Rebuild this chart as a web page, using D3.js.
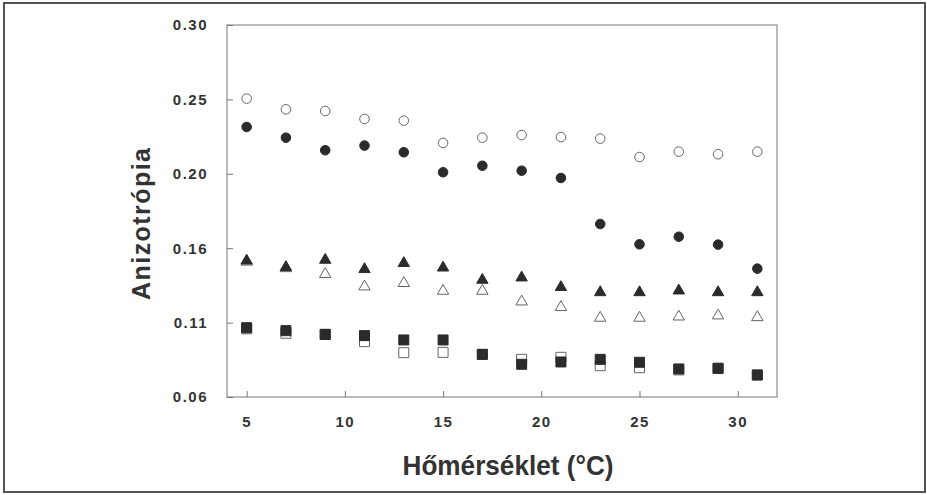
<!DOCTYPE html>
<html>
<head>
<meta charset="utf-8">
<script src="https://cdn.jsdelivr.net/npm/d3@7"></script>
<style>
  body { margin: 0; background: #fff; }
  text { font-family: "Liberation Sans", Arial, sans-serif; font-weight: bold; fill: #333; }
</style>
</head>
<body>
<svg id="chart" width="927" height="495"></svg>
<script>
// temperatures (°C)
const temps = [5, 7, 9, 11, 13, 15, 17, 19, 21, 23, 25, 27, 29, 31];

// anisotropy values
const openCircle   = [0.2525, 0.2456, 0.2445, 0.2394, 0.2383, 0.2239, 0.2273, 0.2290, 0.2277, 0.2267, 0.2148, 0.2183, 0.2166, 0.2183];
const filledCircle = [0.2342, 0.2273, 0.2192, 0.2222, 0.2179, 0.2050, 0.2092, 0.2060, 0.2013, 0.1716, 0.1585, 0.1634, 0.1583, 0.1428];
const openTri      = [0.1472, 0.1430, 0.1392, 0.1312, 0.1334, 0.1284, 0.1284, 0.1215, 0.1179, 0.1110, 0.1110, 0.1118, 0.1125, 0.1114];
const filledTri    = [0.1479, 0.1437, 0.1484, 0.1424, 0.1463, 0.1434, 0.1355, 0.1370, 0.1308, 0.1275, 0.1275, 0.1286, 0.1275, 0.1275];
const openSq       = [0.1040, 0.1011, 0.1004, 0.0957, 0.0886, 0.0888, 0.0875, 0.0843, 0.0856, 0.0802, 0.0789, 0.0775, 0.0785, 0.0742];
const filledSq     = [0.1047, 0.1028, 0.1004, 0.0996, 0.0968, 0.0968, 0.0875, 0.0811, 0.0826, 0.0843, 0.0824, 0.0781, 0.0785, 0.0742];

const xTicks = [5, 10, 15, 20, 25, 30];
const yTicks = [0.06, 0.108, 0.156, 0.204, 0.252, 0.30];
const yTickLabels = ['0.06', '0.11', '0.16', '0.20', '0.25', '0.30'];

const svg = d3.select('#chart');
const margin = { top: 25, right: 150, bottom: 98, left: 227 };
const width = 927 - margin.left - margin.right;
const height = 495 - margin.top - margin.bottom;

// outer frame of the figure
svg.append('rect')
  .attr('x', 4).attr('y', 3)
  .attr('width', 921).attr('height', 489)
  .attr('fill', 'none')
  .attr('stroke', '#555')
  .attr('stroke-width', 2);

const g = svg.append('g').attr('transform', `translate(${margin.left},${margin.top})`);

const x = d3.scaleLinear().domain([4, 32]).range([0, width]);
const y = d3.scaleLinear().domain([0.06, 0.30]).range([height, 0]);

// plot box
g.append('rect')
  .attr('width', width).attr('height', height)
  .attr('fill', 'none')
  .attr('stroke', '#777')
  .attr('stroke-width', 1);

// axes with inward ticks
const xAxis = g.append('g')
  .attr('transform', `translate(0,${height})`)
  .call(d3.axisBottom(x).tickValues(xTicks).tickSizeInner(-6).tickSizeOuter(0).tickPadding(19));
const yAxis = g.append('g')
  .call(d3.axisLeft(y).tickValues(yTicks).tickFormat((d, i) => yTickLabels[i])
    .tickSizeInner(-6).tickSizeOuter(0).tickPadding(19));

[xAxis, yAxis].forEach(ax => {
  ax.select('.domain').remove();
  ax.selectAll('line').attr('stroke', '#777');
  ax.selectAll('text')
    .style('font-family', '"Liberation Sans", Arial, sans-serif')
    .style('font-weight', 'bold')
    .style('font-size', '15px')
    .style('letter-spacing', '1.5px')
    .attr('fill', '#333');
});

// series: open markers first, filled markers on top
const series = [
  { values: openCircle,   shape: d3.symbolCircle,   size: 72,  filled: false },
  { values: openTri,      shape: d3.symbolTriangle, size: 56,  filled: false },
  { values: openSq,       shape: d3.symbolSquare,   size: 100, filled: false },
  { values: filledCircle, shape: d3.symbolCircle,   size: 72,  filled: true },
  { values: filledTri,    shape: d3.symbolTriangle, size: 56,  filled: true },
  { values: filledSq,     shape: d3.symbolSquare,   size: 100, filled: true }
];

series.forEach(s => {
  g.append('g').selectAll('path')
    .data(temps.map((t, i) => ({ t, v: s.values[i] })))
    .join('path')
    .attr('transform', d => `translate(${x(d.t)},${y(d.v)})`)
    .attr('d', d3.symbol().type(s.shape).size(s.size))
    .attr('fill', s.filled ? '#2b2b2b' : '#fff')
    .attr('stroke', s.filled ? '#2b2b2b' : '#666')
    .attr('stroke-width', 1);
});

// axis titles
svg.append('text')
  .attr('x', 508).attr('y', 475)
  .attr('text-anchor', 'middle')
  .attr('textLength', 211)
  .attr('lengthAdjust', 'spacingAndGlyphs')
  .style('font-size', '28px')
  .text('Hőmérséklet (°C)');

svg.append('text')
  .attr('transform', 'translate(150,224) rotate(-90)')
  .attr('text-anchor', 'middle')
  .attr('textLength', 152)
  .attr('lengthAdjust', 'spacing')
  .style('font-size', '25px')
  .text('Anizotrópia');
</script>
</body>
</html>
